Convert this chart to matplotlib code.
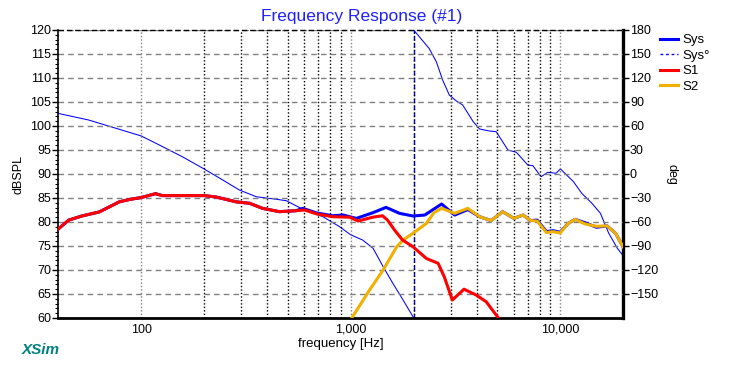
import numpy as np
import matplotlib
matplotlib.use('Agg')
import matplotlib.pyplot as plt
from matplotlib.ticker import FixedLocator, NullFormatter, MultipleLocator

plt.rcParams['font.family'] = ['Liberation Sans', 'DejaVu Sans']

# S1 (woofer) magnitude, dBSPL
s1_freq = [40, 45, 52, 63, 70, 78.5, 88, 100, 117, 126, 170, 200, 228, 284, 329,
           379, 457, 549, 603, 686, 820, 990, 1084, 1274, 1420, 1500, 1622, 1770,
           1985, 2300, 2617, 2800, 3060, 3480, 3970, 4440, 4960, 5200]
s1_db = [78.5, 80.4, 81.25, 82.1, 83.1, 84.2, 84.7, 85.1, 85.9, 85.5, 85.5, 85.5,
         85.2, 84.2, 83.9, 82.85, 82.15, 82.35, 82.5, 81.7, 81.1, 81.0, 80.2, 81.0,
         81.3, 80.4, 78.3, 76.25, 74.85, 72.4, 71.4, 68.6, 63.75, 66.0, 64.8, 63.4,
         60.6, 59.5]

# S2 (tweeter) magnitude, dBSPL
s2_freq = [1000, 1023, 1230, 1430, 1660, 1780, 1985, 2300, 2500, 2720, 3140, 3630,
           4130, 4690, 5320, 6030, 6660, 7240, 7780, 8620, 9260, 10000, 10950,
           11800, 13170, 14970, 16770, 18430, 20000]
s2_db = [59.7, 60.3, 65.8, 70.0, 74.85, 76.25, 77.65, 79.7, 81.95, 82.85, 81.8,
         82.85, 81.1, 80.3, 82.15, 80.75, 81.45, 80.3, 80.2, 77.8, 78.0, 77.7,
         79.7, 80.55, 79.6, 79.1, 79.2, 77.65, 74.85]

# Sys magnitude, dBSPL
sys_freq = [40, 45, 52, 63, 70, 78.5, 88, 100, 117, 126, 170, 200, 228, 284, 329,
            379, 457, 549, 590, 686, 820, 920, 1065, 1280, 1475, 1713, 1985, 2260,
            2720, 3140, 3630, 4130, 4690, 5320, 6030, 6660, 7240, 7780, 8620, 9260,
            10000, 10950, 11800, 13170, 14970, 16770, 18430, 20000]
sys_db = [78.5, 80.4, 81.25, 82.1, 83.1, 84.2, 84.7, 85.1, 85.9, 85.5, 85.5, 85.5,
          85.2, 84.2, 83.9, 82.85, 82.15, 82.35, 82.85, 81.9, 81.3, 81.45, 80.75,
          81.95, 83.05, 81.8, 81.25, 81.45, 83.75, 81.45, 82.6, 81.1, 80.3, 82.15,
          80.75, 81.45, 80.3, 80.4, 78.0, 78.2, 77.85, 79.7, 80.55, 79.85, 78.9,
          79.2, 77.65, 74.85]

# Sys phase, degrees (wrapped to +/-180)
ph_freq = [40, 56, 76, 100, 122, 157, 197, 245, 294, 354, 442, 493, 590, 737, 886,
           1000, 1140, 1280, 1430, 1590, 1780, 1985, 2000, 2000, 2370, 2570, 2750,
           2960, 3200, 3430, 3850, 4130, 4600, 4960, 5640, 6190, 7020, 7420, 8120,
           8740, 9570, 10050, 11600, 12700, 14200, 15600, 17100, 18800, 20000]
ph_deg = [75.8, 67.5, 57, 47.5, 36.25, 21.6, 7.1, -7.5, -20, -28.4, -31.6, -33.4,
          -44.1, -53.4, -65.9, -76, -82.5, -92.9, -115.9, -136.6, -157.5, -178.4,
          -180, 180, 157, 140, 117.5, 98.75, 91.25, 86.25, 65.4, 56.25, 53.75, 52.9,
          30, 27.1, 11.25, 10.4, -3.4, 2.1, 0.9, 6.25, -9.6, -24.1, -36.6, -49.1,
          -74.1, -92.9, -102]

x_ticks = [100, 1000, 10000]
x_labels = ['100', '1,000', '10,000']

blue = '#0000ff'
red = '#ff0000'
orange = '#f0b000'

fig = plt.figure(figsize=(7.33, 3.66), dpi=100)
ax = fig.add_axes([58 / 733, 1 - 318 / 366, 565 / 733, 288 / 366])
ax2 = ax.twinx()
ax.set_zorder(ax2.get_zorder() + 1)
ax.patch.set_visible(False)

# phase on the right axis, split at the wrap
ph_freq = np.array(ph_freq)
ph_deg = np.array(ph_deg)
jump = np.where(np.abs(np.diff(ph_deg)) > 180)[0][0]
ax2.plot(ph_freq[:jump + 1], ph_deg[:jump + 1], color=blue, lw=0.75)
ax2.plot(ph_freq[jump + 1:], ph_deg[jump + 1:], color=blue, lw=0.75)
ax2.plot(ph_freq[jump:jump + 2], ph_deg[jump:jump + 2], color=blue, lw=1.0,
         ls=(0, (3, 2)))

ax.plot(s1_freq, s1_db, color=red, lw=2.2, zorder=4)
ax.plot(sys_freq, sys_db, color=blue, lw=2.2, zorder=2)
ax.plot(s2_freq, s2_db, color=orange, lw=2.2, zorder=3)

ax.set_xscale('log')
ax.set_xlim(40, 20000)
ax.set_ylim(60, 120)
ax2.set_ylim(-180, 180)

ax.xaxis.set_major_locator(FixedLocator(x_ticks))
ax.set_xticklabels(x_labels)
ax.xaxis.set_minor_locator(FixedLocator([k * 10 ** d for d in (2, 3) for k in range(2, 10)]))
ax.xaxis.set_minor_formatter(NullFormatter())
ax.tick_params(axis='x', which='both', length=0, labelsize=9, pad=4)

ax.yaxis.set_major_locator(MultipleLocator(5))
ax.yaxis.set_minor_locator(MultipleLocator(1))
ax.tick_params(axis='y', which='major', length=4, width=1, labelsize=9, pad=1)
ax.tick_params(axis='y', which='minor', length=2.5, width=0.8)

ax2.yaxis.set_major_locator(FixedLocator(list(range(-150, 181, 30))))
ax2.tick_params(axis='y', which='major', length=4, width=1, labelsize=9, pad=1)

ax.grid(True, which='major', axis='y', color='#808080', ls=(0, (4, 3)), lw=1)
ax.grid(True, which='major', axis='x', color='#808080', ls=(0, (1, 1.5)), lw=1)
ax.grid(True, which='minor', axis='x', color='black', ls=(0, (1, 1.5)), lw=1)

for s in ('top', 'right'):
    ax.spines[s].set_visible(False)
for s in ('top', 'left', 'bottom'):
    ax2.spines[s].set_visible(False)
ax.spines['left'].set_linewidth(1.2)
ax.spines['bottom'].set_linewidth(2)
ax.spines['bottom'].set_linestyle((0, (2, 1)))
ax2.spines['right'].set_linewidth(2.4)
ax.axhline(120, color='black', ls=(0, (4, 2)), lw=1, clip_on=False)

ax.set_ylabel('dBSPL', fontsize=9, labelpad=4)
ax2.set_ylabel('deg', fontsize=9, rotation=270, labelpad=14)
ax.set_xlabel('frequency [Hz]', fontsize=9.5, labelpad=2)
fig.text(362 / 733, 1 - 16 / 366, 'Frequency Response (#1)', color='#2020ff',
         fontsize=12.5, ha='center', va='center')
fig.text(22 / 733, 1 - 350 / 366, 'XSim', color='#008080', fontsize=11,
         fontweight='bold', style='italic', va='center')

handles = [
    plt.Line2D([], [], color=blue, lw=2.2),
    plt.Line2D([], [], color=blue, lw=1.0, ls=(0, (2, 2))),
    plt.Line2D([], [], color=red, lw=2.2),
    plt.Line2D([], [], color=orange, lw=2.2),
]
fig.legend(handles, ['Sys', 'Sys°', 'S1', 'S2'], loc='upper left',
           bbox_to_anchor=(660 / 733, 1 - 34 / 366), frameon=False,
           fontsize=9.5, handlelength=1.4, handletextpad=0.3,
           labelspacing=0.25, borderaxespad=0, borderpad=0)

fig.savefig('out.png', dpi=100)
